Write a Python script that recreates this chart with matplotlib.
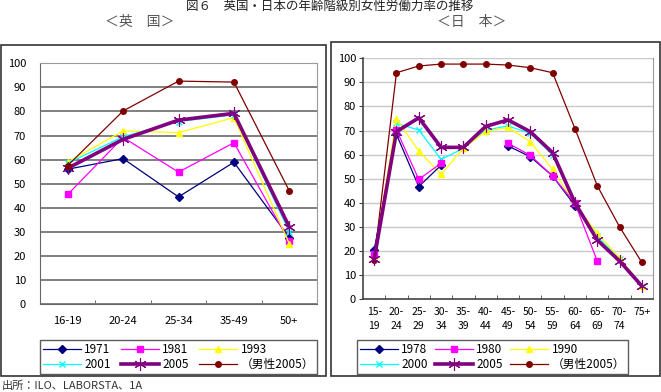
import numpy as np
import matplotlib
matplotlib.use('Agg')
import matplotlib.pyplot as plt
from matplotlib.patches import Rectangle

plt.rcParams['font.family'] = ['Noto Sans CJK JP', 'DejaVu Sans']

# UK data
uk_ages = ['16-19', '20-24', '25-34', '35-49', '50+']
uk_1971 = [56, 60.4, 44.5, 58.9, 27.6]
uk_1981 = [45.5, 69.2, 54.8, 67, 26]
uk_1993 = [59, 71.9, 71.2, 77.4, 25]
uk_2001 = [58.5, 69.5, 75.8, 78.6, 30]
uk_2005 = [56.4, 68.4, 76.4, 79.2, 32]
uk_male = [57.5, 80.2, 92.6, 92.2, 47]

# Japan data
jp_ages = ['15-\n19', '20-\n24', '25-\n29', '30-\n34', '35-\n39', '40-\n44', '45-\n49',
           '50-\n54', '55-\n59', '60-\n64', '65-\n69', '70-\n74', '75+']
nan = np.nan
jp_1978 = [20.4, 68.4, 46.7, 55.6, nan, nan, 63.6, 59.1, 51.1, 38.8, nan, nan, nan]
jp_1980 = [18.5, 70.2, 49.7, 56.4, nan, nan, 64.7, 59.7, 51.1, 39.8, 15.8, nan, nan]
jp_1990 = [17.9, 74.8, 61.5, 51.8, 62.6, 69.6, 71.3, 65.3, 53.9, 39.5, 27.3, 17.0, 5.6]
jp_2000 = [17.5, 73.0, 70.2, 58.0, 62.6, 70.2, 71.9, 68.8, 59.8, 39.5, 26.0, 16.5, 5.5]
jp_2005 = [16.5, 69.5, 75.3, 63.0, 63.0, 71.7, 74.4, 69.5, 60.8, 40.0, 24.5, 15.8, 5.4]
jp_male = [16.3, 94.0, 96.8, 97.6, 97.6, 97.6, 97.2, 96.1, 94.0, 70.8, 47.1, 30.0, 15.2]

star = (6, 2, 0)
styles = [
    dict(color='#000080', marker='D', ms=4, lw=0.9),
    dict(color='#FF00FF', marker='s', ms=4.5, lw=0.9),
    dict(color='#FFFF00', marker='^', ms=5, lw=0.9),
    dict(color='#00FFFF', marker='x', ms=5, lw=0.9, mew=1),
    dict(color='#800080', marker=star, ms=9, lw=2.6, mew=0.8),
    dict(color='#800000', marker='o', ms=4, lw=0.9),
]

fig = plt.figure(figsize=(6.61, 3.92), dpi=100)
W, H = 661.0, 392.0

# outer frames
fig.patches.append(Rectangle((0.5 / W, (H - 376) / H), 325 / W, 331 / H, transform=fig.transFigure,
                             fill=False, ec='#333333', lw=1.2))
fig.patches.append(Rectangle((331 / W, (H - 376) / H), 329 / W, 334 / H, transform=fig.transFigure,
                             fill=False, ec='#333333', lw=1.2))

fig.text(330 / W, (H - 1) / H, '図６　英国・日本の年齢階級別女性労働力率の推移', ha='center', va='top',
         fontsize=9, color='#222222')
fig.text(140 / W, (H - 22) / H, '＜英　国＞', ha='center', va='center', fontsize=10, color='#555555')
fig.text(472 / W, (H - 22) / H, '＜日　本＞', ha='center', va='center', fontsize=10, color='#555555')
fig.text(2 / W, 1 / H, '出所：ILO、LABORSTA、1A', ha='left', va='bottom', fontsize=8, color='#333333')

# UK chart
ax1 = fig.add_axes([40 / W, (H - 304) / H, 277 / W, 240.7 / H])
x1 = np.arange(len(uk_ages))
uk_series = [('1971', uk_1971), ('1981', uk_1981), ('1993', uk_1993),
             ('2001', uk_2001), ('2005', uk_2005), ('（男性2005）', uk_male)]
h1 = []
for (lab, vals), st in zip(uk_series, styles):
    l, = ax1.plot(x1, vals, label=lab, **st)
    h1.append(l)
ax1.set_xlim(-0.5, len(uk_ages) - 0.5)
ax1.set_ylim(0, 100)
ax1.set_yticks(np.arange(0, 101, 10))
ax1.yaxis.grid(True, color='#7f7f7f', lw=1.4)
ax1.set_axisbelow(True)
ax1.set_xticks(x1)
ax1.set_xticklabels(uk_ages)
ax1.set_xticks(np.arange(0.5, len(uk_ages) - 0.5, 1), minor=True)
ax1.tick_params(axis='x', which='major', length=0, pad=9, labelsize=8)
ax1.tick_params(axis='x', which='minor', direction='in', length=3, color='#555555')
ax1.tick_params(axis='y', length=0, labelsize=8, pad=10)
for s in ax1.spines.values():
    s.set_color('#9a9a9a')
ax1.spines['left'].set_color('#666666')
ax1.spines['bottom'].set_color('#666666')

order = [0, 3, 1, 4, 2, 5]
leg1 = fig.legend([h1[i] for i in order], [uk_series[i][0] for i in order], ncol=3,
                  loc='lower left', bbox_to_anchor=(40 / W, (H - 374) / H, 277 / W, 37 / H),
                  mode='expand', fontsize=8.5, frameon=True, fancybox=False, edgecolor='#333333',
                  borderpad=0.25, labelspacing=0.15, handlelength=3.2, handletextpad=0.3,
                  borderaxespad=0)
leg1.get_frame().set_linewidth(1.0)

# Japan chart
ax2 = fig.add_axes([363 / W, (H - 299) / H, 290 / W, 240.7 / H])
x2 = np.arange(len(jp_ages))
jp_series = [('1978', jp_1978), ('1980', jp_1980), ('1990', jp_1990),
             ('2000', jp_2000), ('2005', jp_2005), ('（男性2005）', jp_male)]
draw_order = [5, 3, 2, 0, 1, 4]
h2 = [None] * 6
for i in draw_order:
    lab, vals = jp_series[i]
    l, = ax2.plot(x2, vals, label=lab, **styles[i])
    h2[i] = l
ax2.set_xlim(-0.5, len(jp_ages) - 0.5)
ax2.set_ylim(0, 100)
ax2.set_yticks(np.arange(0, 101, 10))
ax2.yaxis.grid(True, color='#c8c8c8', lw=1.0)
ax2.set_axisbelow(True)
ax2.set_xticks(x2)
ax2.set_xticklabels(jp_ages, linespacing=1.4)
ax2.set_xticks(np.arange(0.5, len(jp_ages) - 0.5, 1), minor=True)
ax2.tick_params(axis='x', which='major', length=0, pad=6, labelsize=7.5)
ax2.tick_params(axis='x', which='minor', direction='in', length=3, color='#444444')
ax2.tick_params(axis='y', length=3, labelsize=8, pad=2, color='#444444')
ax2.spines['top'].set_visible(False)
ax2.spines['right'].set_color('#9a9a9a')
ax2.spines['left'].set_color('#444444')
ax2.spines['bottom'].set_color('#444444')
ax2.spines['left'].set_linewidth(1.2)
ax2.spines['bottom'].set_linewidth(1.2)

leg2 = fig.legend([h2[i] for i in order], [jp_series[i][0] for i in order], ncol=3,
                  loc='lower left', bbox_to_anchor=(357 / W, (H - 374) / H, 271 / W, 34 / H),
                  mode='expand', fontsize=8.5, frameon=True, fancybox=False, edgecolor='#333333',
                  borderpad=0.25, labelspacing=0.15, handlelength=3.2, handletextpad=0.3,
                  borderaxespad=0)
leg2.get_frame().set_linewidth(1.0)

fig.savefig('out.png', dpi=100)
